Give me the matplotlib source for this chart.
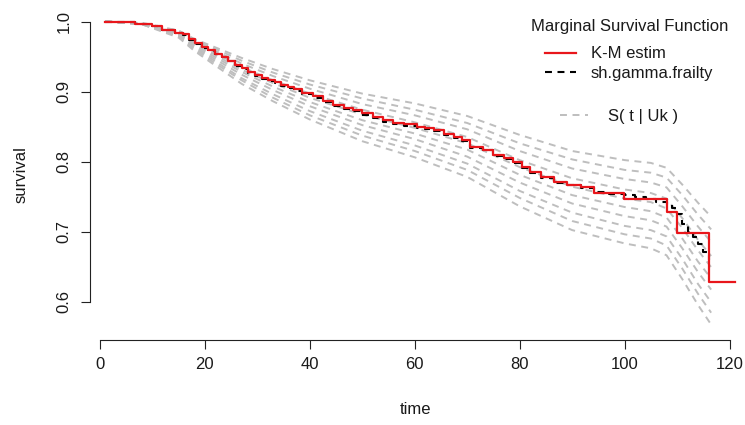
import matplotlib
matplotlib.use("Agg")
import matplotlib.pyplot as plt

plt.rcParams['font.family'] = ['Liberation Sans', 'DejaVu Sans']
plt.rcParams['lines.scale_dashes'] = False

# Kaplan-Meier estimate (step function, value holds until next time)
km_time = [1, 6.7, 10, 11.8, 14.3, 15.8, 17, 18.1, 19.5, 20.6, 22, 23.3, 24.5,
           25.8, 27, 28.2, 29.5, 30.9, 32, 33.4, 34.5, 35.9, 37, 38.5, 40.6,
           42.5, 44.5, 46.5, 48.3, 50, 52.1, 54, 55.9, 58, 60.4, 62, 63.6, 65.5,
           67.4, 69, 70.5, 73, 75, 77, 78.8, 80.5, 82, 84, 86.5, 89, 91.6, 94.1,
           99.8, 108, 110, 116, 121]
km_surv = [1.0, 0.996, 0.994, 0.988, 0.984, 0.982, 0.975, 0.969, 0.963, 0.959,
           0.954, 0.950, 0.944, 0.938, 0.933, 0.928, 0.923, 0.919, 0.916, 0.914,
           0.910, 0.907, 0.903, 0.898, 0.893, 0.887, 0.881, 0.877, 0.874, 0.869,
           0.864, 0.859, 0.855, 0.853, 0.850, 0.848, 0.845, 0.840, 0.835, 0.831,
           0.821, 0.817, 0.809, 0.805, 0.799, 0.792, 0.785, 0.778, 0.771, 0.767,
           0.764, 0.755, 0.747, 0.728, 0.698, 0.628, 0.628]

# Marginal survival from the shared gamma frailty model
marg_time = [1, 6.7, 10, 11.8, 14.3, 15.8, 17, 18.1, 19.5, 20.6, 22, 23.3, 24.5,
             25.8, 27, 28.2, 29.5, 30.9, 32, 33.4, 34.5, 35.9, 37, 38.5, 40.6,
             42.5, 44.5, 46.5, 48.3, 50, 52.1, 54, 55.9, 58, 60.4, 62, 63.6,
             65.5, 67.4, 69, 70.5, 73, 75, 77, 78.8, 80.5, 82, 84, 86.5, 89,
             91.6, 94.1, 97, 100, 102, 104, 106, 108, 109, 110, 111, 112, 113,
             114, 115, 116]
marg_surv = [1.0, 0.996, 0.994, 0.988, 0.983, 0.981, 0.974, 0.968, 0.962, 0.958,
             0.953, 0.949, 0.943, 0.937, 0.932, 0.927, 0.922, 0.918, 0.915, 0.912,
             0.908, 0.905, 0.901, 0.897, 0.891, 0.885, 0.879, 0.875, 0.872, 0.867,
             0.862, 0.857, 0.853, 0.851, 0.848, 0.846, 0.843, 0.838, 0.833, 0.829,
             0.820, 0.816, 0.808, 0.804, 0.798, 0.791, 0.784, 0.777, 0.770, 0.766,
             0.762, 0.757, 0.754, 0.752, 0.749, 0.746, 0.742, 0.738, 0.733, 0.725,
             0.711, 0.700, 0.692, 0.682, 0.671, 0.660]

# Conditional survival curves S(t | Uk) for individual frailty values
cond_time = [1, 8, 15, 18, 22, 27, 33, 40, 50, 60, 70, 80, 90, 100, 105, 108,
             111, 114, 116.5]
cond_u1 = [1.000, 0.998, 0.987, 0.975, 0.963, 0.948, 0.932, 0.916, 0.897, 0.883,
           0.865, 0.838, 0.815, 0.802, 0.798, 0.791, 0.767, 0.741, 0.721]
cond_u2 = [1.000, 0.997, 0.986, 0.974, 0.961, 0.944, 0.927, 0.910, 0.890, 0.874,
           0.855, 0.826, 0.803, 0.788, 0.784, 0.777, 0.752, 0.724, 0.703]
cond_u3 = [1.000, 0.997, 0.985, 0.972, 0.958, 0.940, 0.922, 0.904, 0.882, 0.866,
           0.846, 0.815, 0.790, 0.775, 0.770, 0.763, 0.736, 0.707, 0.685]
cond_u4 = [1.000, 0.997, 0.984, 0.969, 0.955, 0.935, 0.916, 0.897, 0.874, 0.856,
           0.835, 0.802, 0.776, 0.760, 0.755, 0.747, 0.719, 0.688, 0.665]
cond_u5 = [1.000, 0.997, 0.983, 0.968, 0.952, 0.931, 0.912, 0.891, 0.867, 0.848,
           0.826, 0.792, 0.764, 0.747, 0.742, 0.733, 0.705, 0.673, 0.649]
cond_u6 = [1.000, 0.997, 0.982, 0.966, 0.949, 0.928, 0.907, 0.885, 0.859, 0.840,
           0.817, 0.781, 0.752, 0.735, 0.729, 0.720, 0.690, 0.657, 0.633]
cond_u7 = [1.000, 0.997, 0.981, 0.964, 0.946, 0.924, 0.902, 0.879, 0.852, 0.832,
           0.807, 0.770, 0.740, 0.722, 0.716, 0.707, 0.676, 0.642, 0.617]
cond_u8 = [1.000, 0.996, 0.980, 0.962, 0.943, 0.919, 0.896, 0.872, 0.844, 0.823,
           0.797, 0.758, 0.727, 0.708, 0.702, 0.693, 0.661, 0.625, 0.599]
cond_u9 = [1.000, 0.996, 0.979, 0.960, 0.940, 0.916, 0.891, 0.866, 0.837, 0.815,
           0.788, 0.748, 0.715, 0.696, 0.690, 0.680, 0.647, 0.611, 0.584]
cond_u10 = [1.000, 0.996, 0.977, 0.958, 0.937, 0.911, 0.886, 0.860, 0.829, 0.806,
            0.778, 0.736, 0.702, 0.683, 0.676, 0.666, 0.632, 0.595, 0.567]
cond_curves = [cond_u1, cond_u2, cond_u3, cond_u4, cond_u5,
               cond_u6, cond_u7, cond_u8, cond_u9, cond_u10]

x_ticks = [0, 20, 40, 60, 80, 100, 120]
y_ticks = [0.6, 0.7, 0.8, 0.9, 1.0]
y_tick_labels = ['0.6', '0.7', '0.8', '0.9', '1.0']

TEXT = '#1a1a1a'
W, H = 745, 425

fig = plt.figure(figsize=(W / 100, H / 100), dpi=100)
ax = fig.add_axes([90 / W, 85 / H, 650 / W, 330.75 / H])

dash = (5, 4)
for curve in cond_curves:
    h_cond, = ax.plot(cond_time, curve, color='#BEBEBE', lw=1.4, dashes=dash)
h_marg, = ax.plot(marg_time, marg_surv, drawstyle='steps-post', color='black',
                  lw=1.5, dashes=dash)
h_km, = ax.plot(km_time, km_surv, drawstyle='steps-post', color='#E8161B', lw=1.6)

ax.set_xlim(-1.9, 122.0)
ax.set_ylim(0.545, 1.0175)

for side in ('top', 'right'):
    ax.spines[side].set_visible(False)
ax.spines['left'].set_bounds(0.6, 1.0)
ax.spines['bottom'].set_bounds(0, 120)
for side in ('left', 'bottom'):
    ax.spines[side].set_linewidth(0.8)
    ax.spines[side].set_color('#222222')

ax.set_xticks(x_ticks)
ax.set_xticklabels([str(v) for v in x_ticks])
ax.set_yticks(y_ticks)
ax.set_yticklabels(y_tick_labels, rotation=90, va='center')
ax.tick_params(axis='both', length=6.5, width=0.8, color='#222222',
               labelsize=12, labelcolor=TEXT)
ax.tick_params(axis='x', pad=6)
ax.tick_params(axis='y', pad=7)

ax.set_xlabel('time', fontsize=12, color=TEXT)
ax.set_ylabel('survival', fontsize=12, color=TEXT)
ax.xaxis.set_label_coords(0.5, -0.187)
ax.yaxis.set_label_coords(-0.095, 0.5)

leg1 = ax.legend([h_km, h_marg], ['K-M estim', 'sh.gamma.frailty'],
                 title='Marginal Survival Function', loc='upper right',
                 bbox_to_anchor=(728 / W, 1 - 19 / H),
                 bbox_transform=fig.transFigure, frameon=False, fontsize=12,
                 title_fontsize=12, handlelength=1.86, handletextpad=0.9,
                 labelspacing=0.25, borderpad=0, borderaxespad=0,
                 labelcolor=TEXT)
leg1.get_title().set_color(TEXT)
leg1._legend_box.sep = 9
ax.add_artist(leg1)

leg2 = ax.legend([h_cond], ['S( t | Uk )'], loc='upper left',
                 bbox_to_anchor=(560 / W, 1 - 109 / H),
                 bbox_transform=fig.transFigure, frameon=False, fontsize=12,
                 handlelength=1.7, handletextpad=1.15, borderpad=0,
                 borderaxespad=0, labelcolor=TEXT)

fig.savefig('out.png', dpi=100)
